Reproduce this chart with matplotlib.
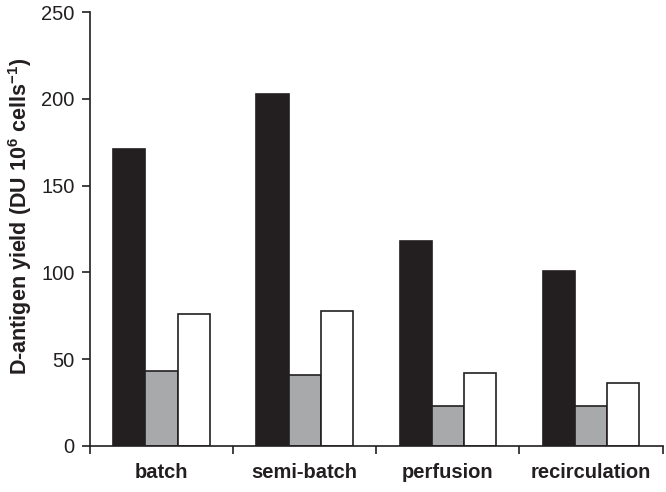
import numpy as np
import matplotlib
matplotlib.use("Agg")
import matplotlib.pyplot as plt

plt.rcParams['font.family'] = ['Liberation Sans', 'DejaVu Sans']
plt.rcParams['mathtext.fontset'] = 'custom'
plt.rcParams['mathtext.rm'] = 'Liberation Sans:bold'
plt.rcParams['mathtext.bf'] = 'Liberation Sans:bold'
plt.rcParams['mathtext.default'] = 'bf'

# data
categories = ["batch", "semi-batch", "perfusion", "recirculation"]
black_vals = [171, 203, 118, 101]
gray_vals = [43, 41, 23, 23]
white_vals = [76, 78, 42, 36.5]

edge = "#231f20"
colors = ["#231f20", "#a7a9ab", "#ffffff"]

fig = plt.figure(figsize=(6.66, 4.92), dpi=100)
ax = fig.add_axes([0.135, 0.0935, 0.86, 0.882])

x = np.arange(len(categories))
w = 0.225
for off, vals, c in zip([-w, 0, w], [black_vals, gray_vals, white_vals], colors):
    ax.bar(x + off, vals, width=w, color=c, edgecolor=edge, linewidth=1.2)

ax.set_xlim(-0.5, len(categories) - 0.5)
ax.set_ylim(0, 250)
ax.set_yticks(range(0, 251, 50))
ax.set_xticks(np.arange(-0.5, len(categories), 1.0))
ax.set_xticklabels([])
ax.set_xticks(x, minor=True)
ax.set_xticklabels(categories, minor=True, fontweight="bold", fontsize=14.5, color=edge)
ax.tick_params(axis="x", which="minor", length=0, pad=12)
ax.tick_params(axis="x", which="major", length=6, width=1.2, color=edge, direction="out")
ax.tick_params(axis="y", length=6, width=1.2, color=edge, direction="out", labelsize=14.5, labelcolor=edge, pad=5)

for s in ["top", "right"]:
    ax.spines[s].set_visible(False)
for s in ["left", "bottom"]:
    ax.spines[s].set_color(edge)
    ax.spines[s].set_linewidth(1.2)

ax.set_ylabel("D-antigen yield (DU 10$^{6}$ cells$^{-1}$)", fontweight="bold", fontsize=15.5, color=edge)
ax.yaxis.set_label_coords(-0.098, 0.53)

fig.savefig("out.png", dpi=100)
